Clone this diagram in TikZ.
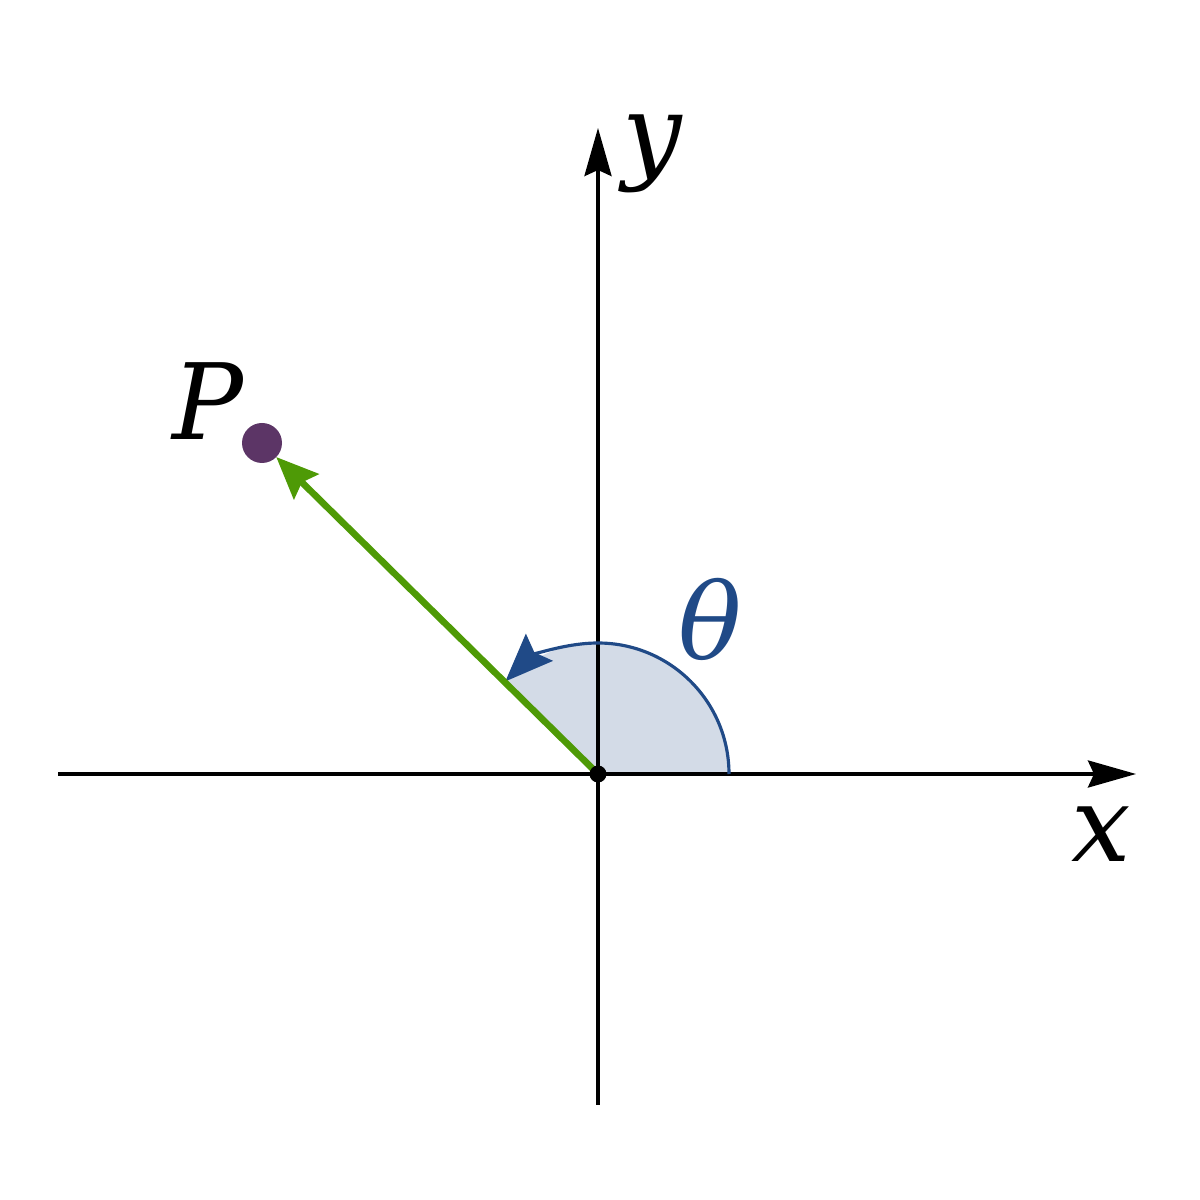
\documentclass[tikz,border=0pt]{standalone}
\usepackage{fontspec}
\setmainfont{DejaVu Serif}
\usepackage{tikz}
\usetikzlibrary{arrows.meta}
\usetikzlibrary{calc}
\usepackage{xcolor}
\definecolor{vecgreen}{HTML}{4E9A06}
\definecolor{ptpurple}{HTML}{5C3566}
\definecolor{angblue}{HTML}{204A87}
\definecolor{angfill}{HTML}{D3DBE7}

\begin{document}
\begin{tikzpicture}[font=\fontsize{30}{36}\selectfont\itshape,
  axis/.style={line width=1.1pt,-{Stealth[length=0.48cm,width=0.27cm,inset=0.06cm]}},
  lbl/.style={anchor=base,inner sep=0pt}]
 \useasboundingbox (0,0) rectangle (12,12);
 \coordinate (O) at (5.98,4.26);
 \coordinate (xL) at (0.58,4.26);
 \coordinate (xR) at (11.36,4.26);
 \coordinate (yB) at (5.98,0.95);
 \coordinate (yT) at (5.98,10.72);
 \coordinate (P) at (2.62,7.57);

 % angle sector
 \fill[angfill] (O) -- ++(1.31,0) arc (0:135:1.31) -- cycle;

 % axes
 \draw[axis] (xL) -- (xR);
 \draw[axis] (yB) -- (yT);

 \draw[angblue,line width=0.9pt,-{Stealth[length=0.48cm,width=0.38cm,inset=0.07cm]}] (O) ++(1.31,0) arc (0:135:1.31);

 % vector to P
 \draw[vecgreen,line width=1.9pt,shorten >=0.2cm,-{Stealth[length=0.42cm,width=0.35cm,inset=0.06cm]}] (O) -- (P);

 \path[fill=ptpurple] (P) circle (0.2);
 \path[fill=black] (O) circle (0.085);

 \node[lbl] (ylab) at (6.52,10.30) {y};
 \node[lbl] (xlab) at (11.01,3.38) {x};
 \node[lbl] (plab) at (2.08,7.60) {P};
 \node[lbl,text=angblue] (thlab) at (7.10,5.40) {θ};
\end{tikzpicture}
\end{document}
